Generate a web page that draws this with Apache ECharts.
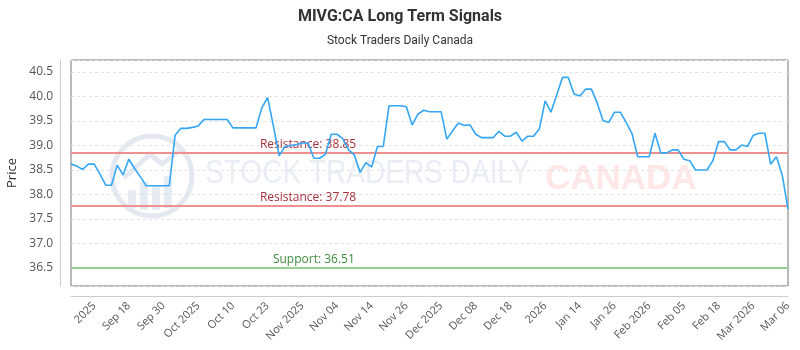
<!DOCTYPE html>
<html>
<head>
<meta charset="utf-8">
<title>MIVG:CA Long Term Signals</title>
<script src="https://cdn.jsdelivr.net/npm/echarts@6/dist/echarts.min.js"></script>
<style>
  html, body { margin: 0; padding: 0; background: #fff; }
  #chart { width: 800px; height: 350px; }
</style>
</head>
<body>
<div id="chart"></div>
<script>
// closing prices, one per session
const prices = [
  38.62, 38.58, 38.51, 38.62, 38.62, 38.42, 38.19, 38.19, 38.60, 38.40,
  38.72, 38.53, 38.36, 38.18, 38.18, 38.18, 38.18, 38.18, 39.21, 39.35,
  39.35, 39.37, 39.40, 39.53, 39.53, 39.53, 39.53, 39.53, 39.36, 39.36,
  39.36, 39.36, 39.36, 39.77, 39.98, 39.40, 38.79, 38.98, 39.00, 39.02,
  39.05, 39.05, 38.74, 38.74, 38.82, 39.23, 39.23, 39.14, 38.91, 38.81,
  38.45, 38.65, 38.56, 38.98, 38.98, 39.81, 39.81, 39.81, 39.79, 39.42,
  39.64, 39.72, 39.69, 39.69, 39.69, 39.13, 39.30, 39.46, 39.41, 39.42,
  39.23, 39.16, 39.16, 39.16, 39.29, 39.19, 39.19, 39.27, 39.09, 39.19,
  39.19, 39.34, 39.91, 39.68, 40.03, 40.39, 40.39, 40.05, 40.01, 40.15,
  40.15, 39.87, 39.51, 39.47, 39.68, 39.68, 39.47, 39.25, 38.77, 38.77,
  38.77, 39.25, 38.85, 38.85, 38.91, 38.91, 38.72, 38.69, 38.50, 38.50,
  38.50, 38.69, 39.08, 39.08, 38.91, 38.91, 39.01, 38.98, 39.21, 39.25,
  39.25, 38.62, 38.77, 38.40, 37.70
];

// x labels, shown on every 6th session starting at the 5th
const tickLabels = [
  '2025', 'Sep 18', 'Sep 30', 'Oct 2025', 'Oct 10', 'Oct 23', 'Nov 2025',
  'Nov 04', 'Nov 14', 'Nov 26', 'Dec 2025', 'Dec 08', 'Dec 18', '2026',
  'Jan 14', 'Jan 26', 'Feb 2026', 'Feb 05', 'Feb 18', 'Mar 2026', 'Mar 06'
];
const tickStart = 4;
const tickStep = 6;

const resistance = [38.85, 37.78];
const support = [36.51];

const isTick = i => i >= tickStart && (i - tickStart) % tickStep === 0;
const categories = prices.map((_, i) =>
  isTick(i) ? tickLabels[(i - tickStart) / tickStep] : String(i));

const chart = echarts.init(document.getElementById('chart'), null, { renderer: 'canvas' });

const levelLine = (v, color) => ({ yAxis: v, lineStyle: { color: color, width: 2, type: 'solid' } });
const levelLabel = (v, text, color, at) => ({
  coord: [categories[at], v],
  value: v,
  label: { show: true, position: 'top', distance: 2, formatter: text + ': ' + v.toFixed(2), color: color }
});

chart.setOption({
  animation: false,
  backgroundColor: '#fff',
  title: {
    text: 'MIVG:CA Long Term Signals',
    subtext: 'Stock Traders Daily Canada',
    left: 'center',
    top: 4,
    itemGap: 10,
    textStyle: { fontFamily: 'Roboto', fontSize: 16, fontWeight: 'bold', color: '#333' },
    subtextStyle: { fontFamily: 'Roboto', fontSize: 12, color: '#333' }
  },
  grid: {
    left: 71, right: 12, top: 60, bottom: 64,
    show: true, borderColor: '#777', borderWidth: 1,
    containLabel: false, outerBoundsMode: 'none'
  },
  // faint watermark behind the plot
  graphic: [{
    type: 'group',
    silent: true,
    children: [
      { type: 'circle', shape: { cx: 152, cy: 176, r: 40 },
        style: { fill: 'none', stroke: '#e4e9f1', lineWidth: 5 } },
      { type: 'polyline', shape: { points: [[124, 178], [150, 154], [162, 164], [180, 150]] },
        style: { fill: 'none', stroke: '#e4e9f1', lineWidth: 5 } },
      { type: 'rect', shape: { x: 128, y: 190, width: 8, height: 18 }, style: { fill: '#e7ecf3' } },
      { type: 'rect', shape: { x: 140, y: 182, width: 8, height: 28 }, style: { fill: '#e7ecf3' } },
      { type: 'rect', shape: { x: 152, y: 186, width: 8, height: 24 }, style: { fill: '#e7ecf3' } },
      { type: 'rect', shape: { x: 164, y: 176, width: 8, height: 32 }, style: { fill: '#e7ecf3' } },
      { type: 'text', x: 205, y: 174, scaleX: 0.85,
        style: { text: 'STOCK TRADERS DAILY', fontFamily: 'Liberation Sans', fontSize: 33,
                 fill: '#e9edf4', verticalAlign: 'middle' } },
      { type: 'text', x: 545, y: 179,
        style: { text: 'CANADA', fontFamily: 'Liberation Sans', fontWeight: 'bold', fontSize: 35,
                 fill: '#fde7e7', verticalAlign: 'middle' } }
    ]
  }],
  xAxis: {
    type: 'category',
    data: categories,
    boundaryGap: false,
    offset: 10,
    axisLine: { show: true, lineStyle: { color: '#ccc' } },
    axisTick: { show: false },
    axisLabel: {
      interval: (i) => isTick(i),
      rotate: 45,
      margin: 8,
      color: '#555',
      fontFamily: 'Open Sans',
      fontSize: 11
    },
    splitLine: { show: false }
  },
  yAxis: {
    type: 'value',
    min: 36.133,
    max: 40.745,
    splitNumber: 9,
    offset: 11,
    name: 'Price',
    nameLocation: 'middle',
    nameGap: 38,
    nameTextStyle: { fontFamily: 'Open Sans', fontSize: 13, color: '#333' },
    axisLine: { show: true, lineStyle: { color: '#ccc' } },
    axisTick: { show: false },
    axisLabel: {
      color: '#555', fontFamily: 'Open Sans', fontSize: 12, margin: 7,
      showMinLabel: false, showMaxLabel: false,
      formatter: v => v.toFixed(1)
    },
    splitLine: { show: true, lineStyle: { color: '#e3e3e3', type: [3, 3] } }
  },
  series: [{
    type: 'line',
    data: prices,
    symbol: 'none',
    lineStyle: { color: '#33a6f5', width: 1.6 },
    itemStyle: { color: '#33a6f5' },
    z: 5,
    markLine: {
      silent: true,
      symbol: 'none',
      label: { show: false },
      data: [
        ...resistance.map(v => levelLine(v, '#ee9090')),
        ...support.map(v => levelLine(v, '#94cf94'))
      ]
    },
    markPoint: {
      silent: true,
      symbol: 'circle',
      symbolSize: 0,
      label: { fontFamily: 'Open Sans', fontSize: 12 },
      data: [
        ...resistance.map(v => levelLabel(v, 'Resistance', '#a8323a', 41)),
        ...support.map(v => levelLabel(v, 'Support', '#3d8b3d', 42))
      ]
    }
  }]
});
</script>
</body>
</html>
